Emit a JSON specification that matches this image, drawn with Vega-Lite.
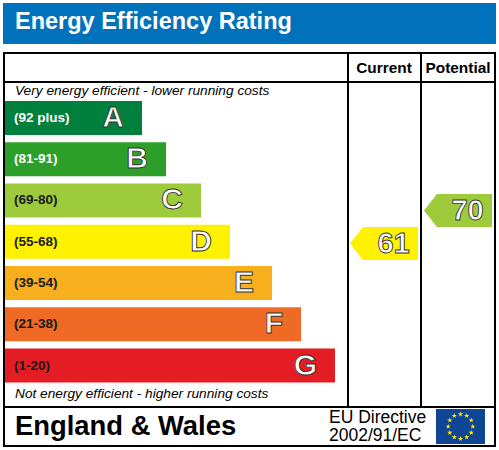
{
  "$schema": "https://vega.github.io/schema/vega-lite/v6.json",
  "description": "Energy Efficiency Rating chart, England & Wales",
  "width": 499,
  "height": 450,
  "autosize": {"type": "fit", "contains": "padding"},
  "padding": 0,
  "background": "white",
  "config": {"font": "Liberation Sans", "view": {"stroke": null}},
  "datasets": {
    "ratings": [
      {"rating": "A", "range": "(92 plus)", "length": 138},
      {"rating": "B", "range": "(81-91)", "length": 162},
      {"rating": "C", "range": "(69-80)", "length": 197},
      {"rating": "D", "range": "(55-68)", "length": 226},
      {"rating": "E", "range": "(39-54)", "length": 268},
      {"rating": "F", "range": "(21-38)", "length": 297},
      {"rating": "G", "range": "(1-20)", "length": 331}
    ],
    "assessments": [
      {"column": "Current", "score": 61, "rating": "D"},
      {"column": "Potential", "score": 70, "rating": "C"}
    ],
    "captions": [
      {"end": "top", "caption": "Very energy efficient - lower running costs"},
      {"end": "bottom", "caption": "Not energy efficient - higher running costs"}
    ],
    "stars": [
      {"sx": 460.5, "sy": 414.2},
      {"sx": 466.7, "sy": 415.8},
      {"sx": 471.2, "sy": 420.3},
      {"sx": 472.8, "sy": 426.5},
      {"sx": 471.2, "sy": 432.7},
      {"sx": 466.7, "sy": 437.2},
      {"sx": 460.5, "sy": 438.8},
      {"sx": 454.3, "sy": 437.2},
      {"sx": 449.8, "sy": 432.7},
      {"sx": 448.2, "sy": 426.5},
      {"sx": 449.8, "sy": 420.3},
      {"sx": 454.3, "sy": 415.8}
    ]
  },
  "resolve": {"scale": {"x": "independent", "y": "independent"}},
  "layer": [
    {
      "data": {"name": "ratings"},
      "encoding": {
        "y": {
          "field": "rating",
          "type": "nominal",
          "scale": {"domain": ["A", "B", "C", "D", "E", "F", "G"], "range": [101, 382.5], "paddingInner": 0.177, "paddingOuter": 0},
          "axis": null
        },
        "x": {"field": "length", "type": "quantitative", "scale": {"domain": [0, 344], "range": [4, 348]}, "axis": null}
      },
      "layer": [
        {
          "mark": {"type": "bar"},
          "encoding": {
            "color": {
              "field": "rating",
              "type": "nominal",
              "scale": {
                "domain": ["A", "B", "C", "D", "E", "F", "G"],
                "range": ["#007F3D", "#2C9F29", "#9DCB3C", "#FFF200", "#F7AF1D", "#EF6A25", "#E31D23"]
              },
              "legend": null
            }
          }
        },
        {
          "mark": {"type": "text", "align": "right", "baseline": "middle", "fontWeight": "bold", "fontSize": 30, "dx": -18, "fill": "#FFFFFF", "stroke": "#333333", "strokeWidth": 0.9},
          "encoding": {"text": {"field": "rating"}}
        },
        {
          "mark": {"type": "text", "align": "left", "baseline": "middle", "fontWeight": "bold", "fontSize": 13.5, "dx": 10},
          "encoding": {
            "x": {"datum": 0, "type": "quantitative"},
            "text": {"field": "range"},
            "color": {
              "condition": {"test": "datum.rating == 'A' || datum.rating == 'B'", "value": "#FFFFFF"},
              "value": "#1A1A1A"
            }
          }
        }
      ]
    },
    {
      "data": {"name": "captions"},
      "mark": {"type": "text", "align": "left", "baseline": "middle", "fontStyle": "italic", "fontSize": 13.7, "color": "#000000"},
      "encoding": {
        "x": {"datum": 15, "type": "quantitative", "scale": {"domain": [0, 499], "range": [0, 499]}, "axis": null},
        "y": {
          "field": "end",
          "type": "nominal",
          "scale": {"type": "point", "domain": ["top", "bottom"], "range": [91, 394], "padding": 0},
          "axis": null
        },
        "text": {"field": "caption"}
      }
    },
    {
      "data": {"name": "assessments"},
      "encoding": {
        "x": {"field": "column", "type": "nominal", "scale": {"type": "point", "domain": ["Current", "Potential"], "range": [384, 458], "padding": 0}, "axis": null},
        "y": {"field": "score", "type": "quantitative", "scale": {"domain": [0, 100], "range": [467.2, 100.5]}, "axis": null}
      },
      "layer": [
        {
          "mark": {"type": "point", "filled": true, "opacity": 1, "size": 4624, "shape": "M-1,0L-0.62,-0.485L1,-0.485L1,0.485L-0.62,0.485Z"},
          "encoding": {
            "color": {
              "field": "rating",
              "type": "nominal",
              "scale": {
                "domain": ["A", "B", "C", "D", "E", "F", "G"],
                "range": ["#007F3D", "#2C9F29", "#9DCB3C", "#FFF200", "#F7AF1D", "#EF6A25", "#E31D23"]
              },
              "legend": null
            }
          }
        },
        {
          "mark": {"type": "text", "baseline": "middle", "fontWeight": "bold", "fontSize": 29, "dx": 9.5, "fill": "#FFFFFF", "stroke": "#333333", "strokeWidth": 0.9},
          "encoding": {"text": {"field": "score"}}
        }
      ]
    },
    {
      "data": {"name": "assessments"},
      "mark": {"type": "text", "baseline": "middle", "fontWeight": "bold", "fontSize": 15.4, "color": "#000000"},
      "encoding": {
        "x": {"field": "column", "type": "nominal", "scale": {"type": "point", "domain": ["Current", "Potential"], "range": [384, 458], "padding": 0}, "axis": null},
        "y": {"datum": 67.5, "type": "quantitative", "scale": {"domain": [0, 450], "range": [0, 450]}, "axis": null},
        "text": {"field": "column"}
      }
    },
    {
      "data": {"values": [{"part": "page"}]},
      "encoding": {
        "x": {"datum": 4, "type": "quantitative", "scale": {"domain": [0, 499], "range": [0, 499]}, "axis": null},
        "y": {"datum": 53, "type": "quantitative", "scale": {"domain": [0, 450], "range": [0, 450]}, "axis": null}
      },
      "layer": [
        {
          "mark": {"type": "rect", "color": "#0072BC"},
          "encoding": {"x": {"datum": 3}, "x2": {"datum": 496}, "y": {"datum": 3}, "y2": {"datum": 44}}
        },
        {
          "mark": {"type": "text", "align": "left", "baseline": "middle", "fontWeight": "bold", "fontSize": 23.5, "color": "#FFFFFF"},
          "encoding": {"x": {"datum": 15}, "y": {"datum": 22}, "text": {"value": "Energy Efficiency Rating"}}
        },
        {
          "mark": {"type": "text", "align": "left", "baseline": "middle", "fontWeight": "bold", "fontSize": 27.4, "color": "#000000"},
          "encoding": {"x": {"datum": 15}, "y": {"datum": 426.5}, "text": {"value": "England & Wales"}}
        },
        {
          "mark": {"type": "text", "align": "left", "baseline": "middle", "fontSize": 17.5, "color": "#000000"},
          "encoding": {"x": {"datum": 329}, "y": {"datum": 418}, "text": {"value": "EU Directive"}}
        },
        {
          "mark": {"type": "text", "align": "left", "baseline": "middle", "fontSize": 17.5, "color": "#000000"},
          "encoding": {"x": {"datum": 329}, "y": {"datum": 436}, "text": {"value": "2002/91/EC"}}
        },
        {
          "mark": {"type": "rect", "color": "#0F4595"},
          "encoding": {"x": {"datum": 436}, "x2": {"datum": 485}, "y": {"datum": 409}, "y2": {"datum": 444}}
        },
        {"mark": {"type": "rule", "color": "#000000", "strokeWidth": 2}, "encoding": {"x": {"datum": 4}, "y": {"datum": 53}, "y2": {"datum": 446}}},
        {"mark": {"type": "rule", "color": "#000000", "strokeWidth": 2}, "encoding": {"x": {"datum": 495}, "y": {"datum": 53}, "y2": {"datum": 446}}},
        {"mark": {"type": "rule", "color": "#000000", "strokeWidth": 2}, "encoding": {"x": {"datum": 348}, "y": {"datum": 53}, "y2": {"datum": 407}}},
        {"mark": {"type": "rule", "color": "#000000", "strokeWidth": 2}, "encoding": {"x": {"datum": 421}, "y": {"datum": 53}, "y2": {"datum": 407}}},
        {"mark": {"type": "rule", "color": "#000000", "strokeWidth": 2}, "encoding": {"x": {"datum": 3}, "x2": {"datum": 496}, "y": {"datum": 53}}},
        {"mark": {"type": "rule", "color": "#000000", "strokeWidth": 2}, "encoding": {"x": {"datum": 3}, "x2": {"datum": 496}, "y": {"datum": 82}}},
        {"mark": {"type": "rule", "color": "#000000", "strokeWidth": 2}, "encoding": {"x": {"datum": 3}, "x2": {"datum": 496}, "y": {"datum": 407}}},
        {"mark": {"type": "rule", "color": "#000000", "strokeWidth": 2}, "encoding": {"x": {"datum": 3}, "x2": {"datum": 496}, "y": {"datum": 446}}}
      ]
    },
    {
      "data": {"name": "stars"},
      "mark": {
        "type": "point",
        "shape": "M0,-1L0.225,-0.309L0.951,-0.309L0.363,0.118L0.588,0.809L0,0.382L-0.588,0.809L-0.363,0.118L-0.951,-0.309L-0.225,-0.309Z",
        "filled": true,
        "opacity": 1,
        "size": 31,
        "color": "#FFED00"
      },
      "encoding": {
        "x": {"field": "sx", "type": "quantitative", "scale": {"domain": [0, 499], "range": [0, 499]}, "axis": null},
        "y": {"field": "sy", "type": "quantitative", "scale": {"domain": [0, 450], "range": [0, 450]}, "axis": null}
      }
    }
  ]
}
